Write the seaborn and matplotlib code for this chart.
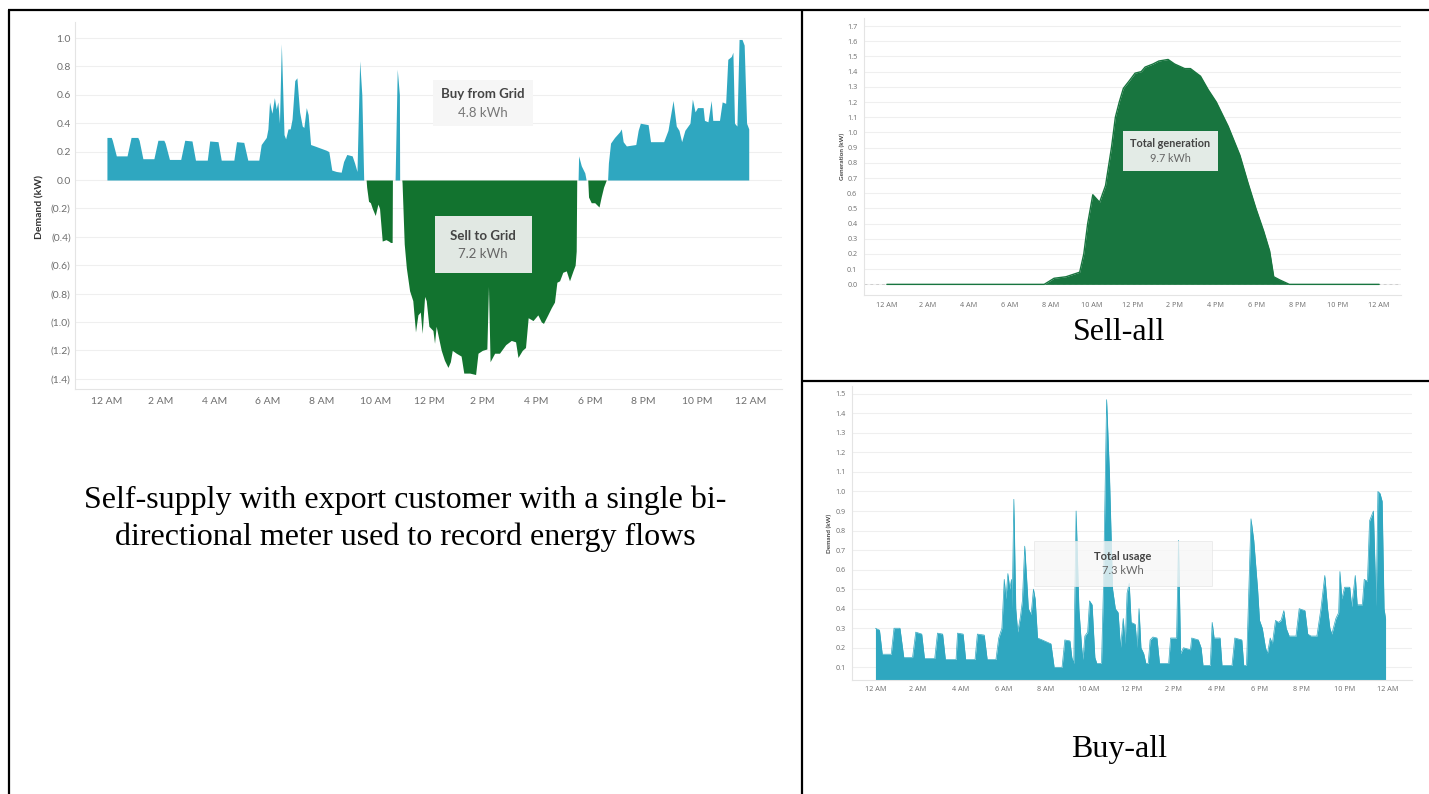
import numpy as np
import pandas as pd
import matplotlib
matplotlib.use("Agg")
import matplotlib.pyplot as plt
import seaborn as sns
from matplotlib.ticker import FuncFormatter
from matplotlib.lines import Line2D
from matplotlib.patches import Rectangle

# ---------------- data ----------------
time_labels = ["12 AM", "2 AM", "4 AM", "6 AM", "8 AM", "10 AM", "12 PM",
               "2 PM", "4 PM", "6 PM", "8 PM", "10 PM", "12 AM"]

# Self-supply with export: net demand (kW), + = buy, - = sell
net_hours = [0.00, 0.16, 0.20, 0.35, 0.75, 0.90, 1.15, 1.20, 1.34, 1.75, 1.90, 2.12, 2.17, 2.33,
             2.75, 2.90, 3.17, 3.30, 3.74, 3.83, 4.14, 4.26, 4.73, 4.83, 5.10, 5.25, 5.66, 5.75,
             5.94, 6.00, 6.06, 6.15, 6.24, 6.31, 6.37, 6.43, 6.50, 6.60, 6.66, 6.75, 6.83, 6.90,
             7.00, 7.08, 7.18, 7.28, 7.34, 7.43, 7.50, 7.59, 7.74, 8.17, 8.27, 8.38, 8.55, 8.73,
             8.82, 8.94, 9.14, 9.23, 9.32, 9.42, 9.50, 9.57, 9.66, 9.68, 9.75, 9.82, 9.89, 10.00,
             10.10, 10.16, 10.26, 10.40, 10.50, 10.57, 10.63, 10.64, 10.74, 10.82, 10.90, 10.91,
             10.99, 11.00, 11.08, 11.16, 11.28, 11.40, 11.50, 11.59, 11.68, 11.75, 11.84, 11.90,
             12.00, 12.15, 12.21, 12.27, 12.37, 12.46, 12.58, 12.71, 12.80, 12.87, 13.02, 13.20,
             13.30, 13.52, 13.74, 13.83, 13.99, 14.16, 14.22, 14.28, 14.45, 14.63, 14.86, 15.07,
             15.23, 15.32, 15.48, 15.60, 15.70, 15.88, 16.06, 16.19, 16.27, 16.43, 16.56, 16.68,
             16.77, 16.87, 16.99, 17.12, 17.24, 17.37, 17.45, 17.49, 17.51, 17.56, 17.58, 17.68,
             17.81, 17.86, 17.92, 17.95, 18.00, 18.05, 18.18, 18.34, 18.42, 18.51, 18.61, 18.66,
             18.69, 18.77, 18.92, 19.11, 19.17, 19.24, 19.36, 19.71, 19.80, 19.88, 20.17, 20.26,
             20.35, 20.75, 20.91, 21.10, 21.22, 21.32, 21.42, 21.54, 21.73, 21.82, 21.92, 22.01,
             22.22, 22.27, 22.40, 22.52, 22.58, 22.83, 22.93, 23.06, 23.14, 23.27, 23.33, 23.39,
             23.48, 23.56, 23.67, 23.75, 23.84, 23.92]
net_kw = [0.30, 0.30, 0.28, 0.17, 0.17, 0.30, 0.30, 0.28, 0.15, 0.15, 0.28, 0.28, 0.26, 0.145,
          0.145, 0.28, 0.275, 0.14, 0.14, 0.275, 0.27, 0.14, 0.14, 0.27, 0.265, 0.14, 0.14, 0.25,
          0.30, 0.36, 0.55, 0.47, 0.58, 0.50, 0.55, 0.40, 0.96, 0.32, 0.29, 0.36, 0.36, 0.43,
          0.70, 0.72, 0.48, 0.38, 0.37, 0.51, 0.46, 0.25, 0.24, 0.21, 0.20, 0.07, 0.06, 0.055,
          0.13, 0.18, 0.17, 0.12, 0.06, 0.84, 0.60, 0.00, 0.00, -0.05, -0.15, -0.16, -0.20, -0.25,
          -0.17, -0.20, -0.43, -0.42, -0.43, -0.44, -0.44, 0.00, 0.00, 0.78, 0.60, 0.00,
          0.00, -0.02, -0.45, -0.62, -0.78, -0.85, -1.07, -0.95, -0.93, -1.08, -0.82, -0.85,
          -1.03, -1.06, -1.15, -1.03, -1.12, -1.20, -1.27, -1.32, -1.28, -1.20, -1.22, -1.24,
          -1.36, -1.36, -1.37, -1.22, -1.20, -1.19, -0.75, -1.28, -1.22, -1.22, -1.16, -1.13,
          -1.14, -1.25, -1.20, -1.18, -0.97, -0.99, -0.95, -1.00, -1.01, -0.95, -0.90, -0.86,
          -0.72, -0.71, -0.65, -0.64, -0.71, -0.64, -0.60, -0.50, 0.00, 0.00, 0.17, 0.10,
          0.05, 0.00, 0.00, -0.12, -0.14, -0.16, -0.16, -0.19, -0.12, -0.05, 0.00, 0.00,
          0.12, 0.26, 0.30, 0.34, 0.36, 0.27, 0.24, 0.25, 0.35, 0.40, 0.39, 0.27,
          0.27, 0.27, 0.35, 0.56, 0.38, 0.35, 0.27, 0.35, 0.40, 0.57, 0.48, 0.51,
          0.51, 0.42, 0.41, 0.56, 0.42, 0.42, 0.55, 0.54, 0.85, 0.87, 0.90, 0.40,
          0.38, 0.99, 0.99, 0.95, 0.40, 0.36]

# Sell-all: generation (kW)
gen_hours = [0.00, 7.67, 8.15, 8.73, 9.40, 9.60, 9.79, 10.04, 10.37, 10.66, 10.95, 11.14, 11.33,
             11.53, 11.82, 12.10, 12.40, 12.59, 12.97, 13.26, 13.71, 14.03, 14.52, 14.80, 15.29,
             15.67, 16.06, 16.64, 17.21, 17.60, 17.99, 18.37, 18.66, 18.86, 19.14, 19.62, 24.00]
gen_kw = [0.00, 0.00, 0.04, 0.05, 0.08, 0.20, 0.40, 0.59, 0.54, 0.65, 0.90, 1.10, 1.20,
          1.29, 1.34, 1.39, 1.40, 1.43, 1.45, 1.47, 1.48, 1.45, 1.42, 1.42, 1.37,
          1.28, 1.20, 1.04, 0.85, 0.67, 0.50, 0.35, 0.22, 0.05, 0.03, 0.00, 0.00]

# Buy-all: household usage (kW)
use_hours = [0.00, 0.19, 0.32, 0.74, 0.87, 1.15, 1.33, 1.74, 1.89, 2.17, 2.30, 2.78, 2.91, 3.15,
             3.28, 3.78, 3.85, 4.11, 4.23, 4.67, 4.78, 5.10, 5.24, 5.65, 5.78, 5.93, 6.04, 6.12,
             6.21, 6.30, 6.38, 6.41, 6.49, 6.58, 6.67, 6.80, 6.89, 7.00, 7.12, 7.17, 7.30, 7.41,
             7.49, 7.60, 7.82, 8.23, 8.38, 8.75, 8.88, 9.12, 9.21, 9.30, 9.41, 9.54, 9.67, 9.73,
             9.82, 9.95, 10.04, 10.16, 10.29, 10.38, 10.60, 10.69, 10.84, 10.97, 11.12, 11.25,
             11.38, 11.49, 11.62, 11.71, 11.80, 11.90, 11.99, 12.18, 12.27, 12.36, 12.45, 12.58,
             12.68, 12.79, 12.88, 13.01, 13.20, 13.32, 13.75, 13.84, 14.12, 14.21, 14.31, 14.44,
             14.77, 14.83, 15.14, 15.27, 15.36, 15.70, 15.79, 15.88, 16.16, 16.25, 16.72, 16.85,
             17.18, 17.27, 17.40, 17.61, 17.74, 17.92, 18.01, 18.14, 18.29, 18.38, 18.51, 18.61,
             18.76, 18.89, 19.02, 19.15, 19.26, 19.40, 19.72, 19.87, 20.14, 20.27, 20.42, 20.70,
             20.89, 21.07, 21.20, 21.31, 21.40, 21.59, 21.72, 21.78, 21.87, 22.00, 22.24, 22.33,
             22.50, 22.59, 22.83, 22.92, 23.07, 23.17, 23.35, 23.48, 23.56, 23.66, 23.76, 23.85,
             23.92]
use_kw = [0.30, 0.29, 0.167, 0.167, 0.30, 0.30, 0.15, 0.15, 0.28, 0.27, 0.145, 0.145, 0.275, 0.27,
          0.14, 0.14, 0.275, 0.27, 0.14, 0.14, 0.27, 0.265, 0.14, 0.14, 0.25, 0.30, 0.55, 0.45,
          0.58, 0.50, 0.55, 0.40, 0.96, 0.40, 0.28, 0.36, 0.44, 0.72, 0.50, 0.40, 0.37, 0.50,
          0.45, 0.25, 0.24, 0.22, 0.10, 0.10, 0.24, 0.235, 0.15, 0.12, 0.90, 0.40, 0.20, 0.14,
          0.26, 0.28, 0.44, 0.42, 0.15, 0.12, 0.12, 0.50, 1.47, 1.10, 0.50, 0.40,
          0.38, 0.20, 0.35, 0.22, 0.48, 0.53, 0.33, 0.32, 0.20, 0.40, 0.20, 0.17,
          0.12, 0.12, 0.24, 0.255, 0.25, 0.12, 0.12, 0.25, 0.25, 0.75, 0.17, 0.20,
          0.19, 0.25, 0.24, 0.20, 0.11, 0.11, 0.33, 0.25, 0.25, 0.11, 0.11, 0.25,
          0.24, 0.11, 0.11, 0.86, 0.75, 0.50, 0.34, 0.30, 0.20, 0.17, 0.25, 0.22,
          0.34, 0.33, 0.34, 0.39, 0.30, 0.26, 0.26, 0.40, 0.39, 0.27, 0.26, 0.26,
          0.40, 0.57, 0.40, 0.30, 0.27, 0.35, 0.38, 0.59, 0.45, 0.51, 0.51, 0.41,
          0.57, 0.42, 0.42, 0.55, 0.54, 0.85, 0.90, 0.41, 1.00, 0.99, 0.95, 0.40,
          0.35]

# ---------------- styling ----------------
CYAN = "#2fa7c0"
GREEN = "#12732f"
GREEN2 = "#18753f"
TICK = "#6e6e6e"
GRID = "#efefef"

sns.set_theme(style="white")
plt.rcParams["font.family"] = ["Lato", "DejaVu Sans"]

W, H = 1429, 794
fig = plt.figure(figsize=(W / 100, H / 100), dpi=100)
fig.patch.set_facecolor("white")


def px_axes(l, t, r, b):
    return fig.add_axes([l / W, 1 - b / H, (r - l) / W, (b - t) / H])


def style_axes(ax, fs, pad_x, pad_y, family=None):
    for s in ["top", "right"]:
        ax.spines[s].set_visible(False)
    for s in ["left", "bottom"]:
        ax.spines[s].set_color("#e4e4e4")
        ax.spines[s].set_linewidth(0.8)
    ax.yaxis.grid(True, color=GRID, lw=0.8)
    ax.xaxis.grid(False)
    ax.set_axisbelow(True)
    ax.tick_params(axis="both", length=0, labelsize=fs, labelcolor=TICK)
    ax.tick_params(axis="x", pad=pad_x)
    ax.tick_params(axis="y", pad=pad_y)
    ax.set_xticks(np.arange(0, 25, 2))
    ax.set_xticklabels(time_labels)
    ax.set_xlabel("")
    ax.set_ylabel("")
    ax.set_facecolor("white")


def set_family(ax, family):
    for lab in ax.get_xticklabels() + ax.get_yticklabels():
        lab.set_family(family)


# ---------------- left: self-supply with export ----------------
ax1 = px_axes(75, 22, 782, 389)
nh = np.array(net_hours)
nv = np.array(net_kw)
ax1.fill_between(nh, np.clip(nv, 0, None), 0, facecolor=CYAN, lw=0, zorder=2)
ax1.fill_between(nh, np.clip(nv, None, 0), 0, facecolor=GREEN, lw=0, zorder=2)
ax1.set_xlim(-1.19, 25.16)
ax1.set_ylim(-1.472, 1.113)
style_axes(ax1, 7.5, 6, 3)
ax1.set_yticks(np.round(np.arange(-1.4, 1.01, 0.2), 1))
ax1.yaxis.set_major_formatter(FuncFormatter(
    lambda v, _: f"({abs(v):.1f})" if v < -1e-9 else f"{abs(v):.1f}"))
fig.text(40 / W, 1 - 207 / H, "Demand (kW)", rotation=90, ha="center", va="center",
         fontsize=7.5, fontweight="bold", color="#333333")

ax1.add_patch(Rectangle((12.15, 0.380), 3.73, 0.324, facecolor="#f6f6f6",
                        edgecolor="none", zorder=3))
ax1.text(14.01, 0.606, "Buy from Grid", ha="center", va="center", fontsize=9.5,
         fontweight="bold", color="#444444", zorder=4)
ax1.text(14.01, 0.472, "4.8 kWh", ha="center", va="center", fontsize=9.5,
         color="#777777", zorder=4)
ax1.add_patch(Rectangle((12.22, -0.655), 3.62, 0.401, facecolor="#e1e8e3",
                        edgecolor="none", zorder=3))
ax1.text(14.01, -0.394, "Sell to Grid", ha="center", va="center", fontsize=9.5,
         fontweight="bold", color="#444444", zorder=4)
ax1.text(14.01, -0.52, "7.2 kWh", ha="center", va="center", fontsize=9.5,
         color="#666666", zorder=4)

SMALL = ["Open Sans", "DejaVu Sans"]

# ---------------- top right: sell-all ----------------
ax2 = px_axes(864.3, 18, 1401.3, 295)
ax2.axhline(0, color="#cfcfcf", lw=0.7, ls=(0, (3, 3)), zorder=1)
ax2.fill_between(gen_hours, gen_kw, 0, facecolor=GREEN2, lw=0, zorder=2)
sns.lineplot(x=gen_hours, y=gen_kw, color=GREEN2, lw=1.0, ax=ax2, zorder=3)
ax2.set_xlim(-1.10, 25.08)
ax2.set_ylim(-0.07, 1.753)
style_axes(ax2, 5.2, 5, 5)
ax2.set_yticks(np.round(np.arange(0, 1.71, 0.1), 1))
ax2.yaxis.set_major_formatter(FuncFormatter(lambda v, _: f"{v:.1f}"))
set_family(ax2, SMALL)
fig.text(842.6 / W, 1 - 156 / H, "Generation (kW)", rotation=90, ha="center", va="center",
         fontsize=4.6, fontweight="bold", color="#444444")
ax2.add_patch(Rectangle((11.51, 0.746), 4.63, 0.263, facecolor="#e3ebe6",
                        edgecolor="none", zorder=4))
ax2.text(13.81, 0.924, "Total generation", ha="center", va="center", fontsize=7.8,
         fontweight="bold", color="#444444", zorder=5)
ax2.text(13.81, 0.831, "9.7 kWh", ha="center", va="center", fontsize=7.8,
         color="#666666", zorder=5)

# ---------------- bottom right: buy-all ----------------
ax3 = px_axes(852.4, 386, 1412, 680)
ax3.fill_between(use_hours, use_kw, 0, facecolor=CYAN, lw=0, zorder=2)
sns.lineplot(x=use_hours, y=use_kw, color=CYAN, lw=0.5, ax=ax3, zorder=3)
ax3.set_xlim(-1.08, 25.16)
ax3.set_ylim(0.035, 1.54)
style_axes(ax3, 5.2, 4, 5)
ax3.set_yticks(np.round(np.arange(0.1, 1.51, 0.1), 1))
ax3.yaxis.set_major_formatter(FuncFormatter(lambda v, _: f"{v:.1f}"))
set_family(ax3, SMALL)
fig.text(829 / W, 1 - 533 / H, "Demand (kW)", rotation=90, ha="center", va="center",
         fontsize=4.6, fontweight="bold", color="#444444")
ax3.add_patch(Rectangle((7.44, 0.517), 8.34, 0.231, facecolor="#f7f7f7", alpha=0.8,
                        edgecolor="#e6e6e6", lw=0.6, zorder=4))
ax3.text(11.6, 0.665, "Total usage", ha="center", va="center", fontsize=8,
         fontweight="bold", color="#444444", zorder=5)
ax3.text(11.6, 0.594, "7.3 kWh", ha="center", va="center", fontsize=8,
         color="#666666", zorder=5)

# ---------------- captions ----------------
SERIF = ["Liberation Serif", "DejaVu Serif"]
fig.text(405 / W, 1 - 500 / H, "Self-supply with export customer with a single bi-",
         ha="center", va="center", fontsize=23, family=SERIF, color="black")
fig.text(405 / W, 1 - 537 / H, "directional meter used to record energy flows",
         ha="center", va="center", fontsize=23, family=SERIF, color="black")
fig.text(1119 / W, 1 - 332 / H, "Sell-all", ha="center", va="center", fontsize=23,
         family=SERIF, color="black")
fig.text(1119 / W, 1 - 750 / H, "Buy-all", ha="center", va="center", fontsize=23,
         family=SERIF, color="black")

# ---------------- table borders ----------------
def border(x1, y1, x2, y2):
    fig.add_artist(Line2D([x1 / W, x2 / W], [1 - y1 / H, 1 - y2 / H], color="black",
                          lw=1.6, transform=fig.transFigure, solid_capstyle="butt"))


border(8, 10, 1429, 10)
border(9, 10, 9, 794)
border(802, 10, 802, 794)
border(802, 381, 1429, 381)

fig.savefig("out.png", dpi=100, facecolor="white")
